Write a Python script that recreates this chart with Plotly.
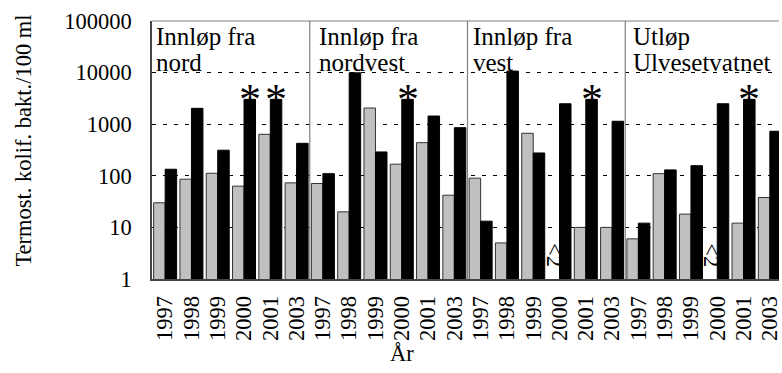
import math
import plotly.graph_objects as go

# ---------------- data ----------------
years = ["1997", "1998", "1999", "2000", "2001", "2003"]
panel_line1 = ["Innløp fra", "Innløp fra", "Innløp fra", "Utløp"]
panel_line2 = ["nord", "nordvest", "vest", "Ulvesetvatnet"]

grey_nord = [30, 86, 112, 63, 637, 73]
black_nord = [134, 2030, 313, 3030, 3030, 426]
grey_nordvest = [71, 20, 2060, 168, 439, 42]
black_nordvest = [110, 9900, 290, 3030, 1440, 856]
grey_vest = [90, 5.0, 667, None, 10, 10]
black_vest = [13.2, 10700, 277, 2490, 3030, 1140]
grey_utlop = [6.0, 110, 18.1, None, 12.1, 37.9]
black_utlop = [12.1, 130, 157, 2490, 3030, 729]

# years marked with an asterisk (black bar) per panel
starred = [["2000", "2001"], ["2000"], ["2001"], ["2001"]]
below_label = "<2"

y_ticks = [1, 10, 100, 1000, 10000, 100000]
y_title = "Termost. kolif. bakt./100 ml"
x_title = "År"

# ---------------- build ----------------
grey_all = grey_nord + grey_nordvest + grey_vest + grey_utlop
black_all = black_nord + black_nordvest + black_vest + black_utlop
labels = years * 4
xs = list(range(len(labels)))
n = len(years)

FONT = "Liberation Serif, Times New Roman, Times, serif"
fs = 22.5

fig = go.Figure()
fig.add_bar(x=xs, y=grey_all, marker=dict(color="#c0c0c0", line=dict(color="#333333", width=1)),
            showlegend=False)
fig.add_bar(x=xs, y=black_all, marker=dict(color="#000000", line=dict(color="#000000", width=1)),
            showlegend=False)

annotations = []
bw = 0.875 / 2
for p in range(4):
    shift = [2, 7, 4, 6][p]
    annotations.append(dict(x=p * n - 0.5, y=1, xref="x", yref="paper", xanchor="left", yanchor="top",
                            text=panel_line1[p], showarrow=False, xshift=shift, yshift=0,
                            font=dict(family=FONT, size=25, color="black")))
    annotations.append(dict(x=p * n - 0.5, y=1, xref="x", yref="paper", xanchor="left", yanchor="top",
                            text=panel_line2[p], showarrow=False, xshift=shift, yshift=-26,
                            font=dict(family=FONT, size=25, color="black")))
    for yr in starred[p]:
        i = p * n + years.index(yr)
        annotations.append(dict(x=i + bw / 2, y=math.log10(black_all[i]), xref="x", yref="y",
                                text="*", showarrow=False, yanchor="middle", yshift=0,
                                font=dict(family=FONT, size=44, color="black")))
for i, v in enumerate(grey_all):
    if v is None:
        annotations.append(dict(x=i - bw / 2, y=0.47, xref="x", yref="y", text=below_label,
                                showarrow=False, textangle=90,
                                font=dict(family=FONT, size=fs, color="black")))

annotations.append(dict(x=(22 - 152) / 630, y=(279 - 141) / 258, xref="paper", yref="paper",
                        text=y_title, textangle=-90, xanchor="center", yanchor="middle",
                        showarrow=False, font=dict(family=FONT, size=fs, color="black")))
annotations.append(dict(x=(403 - 152) / 630, y=(279 - 353) / 258, xref="paper", yref="paper",
                        text=x_title, xanchor="center", yanchor="middle", showarrow=False,
                        font=dict(family=FONT, size=fs, color="black")))

shapes = []
for p in range(1, 4):
    shapes.append(dict(type="line", xref="x", yref="paper", x0=p * n - 0.5, x1=p * n - 0.5, y0=0, y1=1,
                       line=dict(color="#808080", width=1.2)))
shapes.append(dict(type="line", xref="paper", yref="paper", x0=0, x1=1, y0=1, y1=1,
                   line=dict(color="#808080", width=1.2)))

cat_w = 158.5 / 6
x_end = (782 - 152) / cat_w - 0.5

fig.update_layout(
    width=782, height=373,
    margin=dict(l=152, r=0, t=21, b=94),
    paper_bgcolor="white", plot_bgcolor="white",
    barmode="group", bargap=0.125, bargroupgap=0,
    annotations=annotations, shapes=shapes,
    font=dict(family=FONT, size=fs, color="black"),
)
fig.update_xaxes(range=[-0.5, x_end], tickvals=xs, ticktext=labels, tickangle=-90,
                 showgrid=False, zeroline=False, showline=True, linecolor="#444444", linewidth=2,
                 ticks="", ticklabelstandoff=6, ticklabeloverflow="allow",
                 tickfont=dict(family=FONT, size=fs, color="black"))
fig.update_yaxes(type="log", range=[0, 5], tickvals=y_ticks, ticktext=[str(t) for t in y_ticks],
                 showgrid=True, gridcolor="black", gridwidth=1, griddash="4px,7px",
                 zeroline=False, showline=True, linecolor="#444444", linewidth=1.5,
                 ticks="", ticklabelstandoff=14,
                 tickfont=dict(family=FONT, size=fs, color="black"))

fig.write_html("out.html")
